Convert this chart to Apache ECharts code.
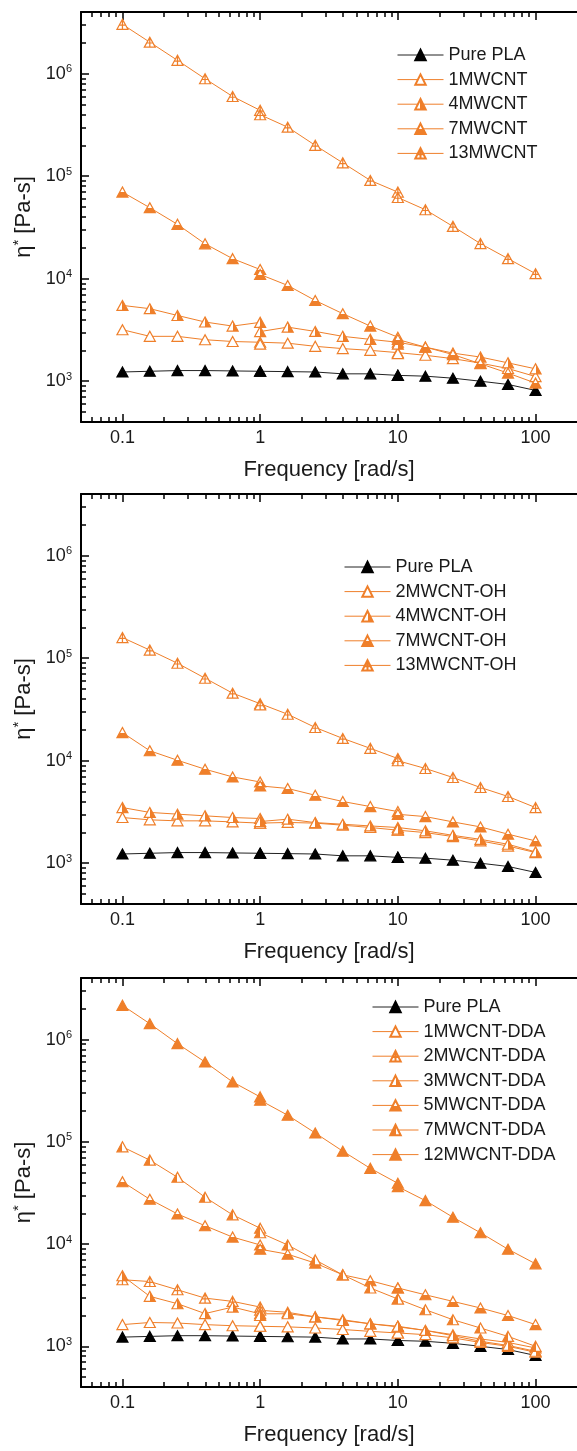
<!DOCTYPE html>
<html><head><meta charset="utf-8">
<script src="https://cdn.jsdelivr.net/npm/echarts@6/dist/echarts.min.js"></script>
<style>html,body{margin:0;padding:0;background:#fff}#c{width:577px;height:1451px}</style>
</head><body><div id="c"></div><script>
// ---------- data ----------
const freq = [0.1, 0.158, 0.251, 0.398, 0.631, 1, 1, 1.585, 2.512, 3.981, 6.31, 10, 10, 15.85, 25.12, 39.81, 63.1, 100];

const purePLA = [1230, 1250, 1270, 1270, 1260, 1250, 1250, 1240, 1230, 1180, 1180, 1140, 1140, 1120, 1070, 1000, 930, 813];

// panel 1
const mwcnt1  = [3180, 2740, 2740, 2540, 2440, 2400, 2300, 2350, 2190, 2080, 2000, 1900, 1860, 1790, 1660, 1500, 1330, 1110];
const mwcnt4  = [5490, 5100, 4380, 3780, 3450, 3750, 3050, 3370, 3060, 2740, 2560, 2400, 2300, 2150, 1880, 1720, 1510, 1320];
const mwcnt7  = [70000, 49300, 33900, 21900, 15700, 12300, 11000, 8600, 6130, 4560, 3450, 2690, 2550, 2150, 1820, 1480, 1200, 958];
const mwcnt13 = [3030000, 2030000, 1350000, 893000, 600000, 439000, 398000, 301000, 200000, 135000, 91000, 70000, 62000, 47100, 32400, 22000, 15700, 11200];

// panel 2
const oh2  = [2790, 2650, 2590, 2590, 2530, 2460, 2460, 2500, 2460, 2350, 2230, 2100, 2100, 1990, 1820, 1650, 1470, 1270];
const oh4  = [3490, 3130, 3010, 2900, 2790, 2730, 2550, 2690, 2490, 2400, 2310, 2230, 2150, 2070, 1870, 1710, 1530, 1290];
const oh7  = [18800, 12500, 10100, 8260, 6950, 6200, 5680, 5360, 4600, 4000, 3570, 3190, 3000, 2850, 2530, 2260, 1920, 1650];
const oh13 = [159000, 120000, 89300, 63800, 45600, 36000, 35000, 28400, 21100, 16500, 13200, 10500, 10000, 8400, 6860, 5480, 4480, 3490];

// panel 3
const dda1  = [1630, 1710, 1690, 1630, 1590, 1570, 1570, 1550, 1510, 1460, 1400, 1350, 1350, 1300, 1210, 1090, 1000, 874];
const dda2  = [4480, 4300, 3570, 2960, 2750, 2420, 2250, 2150, 1940, 1820, 1660, 1550, 1550, 1430, 1300, 1180, 1090, 964];
const dda3  = [4900, 3080, 2610, 2090, 2420, 2080, 2000, 2080, 1940, 1790, 1660, 1570, 1570, 1430, 1270, 1120, 1020, 894];
const dda5  = [40700, 27400, 19700, 15100, 11700, 9800, 8900, 7960, 6510, 5000, 4380, 3720, 3720, 3190, 2750, 2370, 2000, 1630];
const dda7  = [89300, 66200, 45000, 28700, 19300, 14300, 12900, 9800, 7000, 5000, 3720, 2900, 2900, 2280, 1820, 1510, 1250, 1000];
const dda12 = [2160000, 1430000, 912000, 603000, 385000, 275000, 255000, 182000, 122000, 81000, 55000, 39300, 36400, 26600, 18300, 12900, 8900, 6410];

// axes / ticks
const xMajorTicks = [0.1, 1, 10, 100];
const xTickLabels = ['0.1', '1', '10', '100'];
const yMajorTicks = [1e3, 1e4, 1e5, 1e6];
const yTickExponents = ['3', '4', '5', '6'];
const minorMantissas = [2, 3, 4, 5, 6, 7, 8, 9];
const X_MIN = 0.05, X_MAX = 200, Y_MIN = 400, Y_MAX = 4e6;
const xTitle = 'Frequency [rad/s]';

// ---------- styles ----------
const OR = '#ef7f2a';
const FONT = '"Liberation Sans", Arial, sans-serif';
const TXT = '#1a1a1a';
function grad(h, stop, orangeFirst) {
  const a = orangeFirst ? OR : '#fff', b = orangeFirst ? '#fff' : OR;
  return {type: 'linear', x: 0, y: 0, x2: h ? 1 : 0, y2: h ? 0 : 1,
    colorStops: [{offset: 0, color: a}, {offset: stop, color: a}, {offset: stop, color: b}, {offset: 1, color: b}]};
}
const crossTri = 'path://M10,0L20,17.32L0,17.32Z M10,0L10,17.32 M4.23,10L15.77,10';
const MK = {
  black:  {symbol: 'triangle', color: '#000', border: '#000', line: '#222'},
  open:   {symbol: 'triangle', color: '#fff', border: OR, line: OR},
  right:  {symbol: 'triangle', color: grad(true, 0.5, false), border: OR, line: OR},
  left:   {symbol: 'triangle', color: grad(true, 0.5, true), border: OR, line: OR},
  bottom: {symbol: 'triangle', color: grad(false, 0.52, false), border: OR, line: OR},
  cross:  {symbol: crossTri, color: '#fff', border: OR, line: OR},
  filled: {symbol: 'triangle', color: OR, border: OR, line: OR}
};

const panels = [
  {top: 12, height: 410, legend: {left: 392, top: 41},
   series: [['Pure PLA', purePLA, 'black'], ['1MWCNT', mwcnt1, 'open'], ['4MWCNT', mwcnt4, 'right'], ['7MWCNT', mwcnt7, 'bottom'], ['13MWCNT', mwcnt13, 'cross']]},
  {top: 494, height: 410, legend: {left: 339, top: 553},
   series: [['Pure PLA', purePLA, 'black'], ['2MWCNT-OH', oh2, 'open'], ['4MWCNT-OH', oh4, 'right'], ['7MWCNT-OH', oh7, 'bottom'], ['13MWCNT-OH', oh13, 'cross']]},
  {top: 978, height: 409, legend: {left: 367, top: 993},
   series: [['Pure PLA', purePLA, 'black'], ['1MWCNT-DDA', dda1, 'open'], ['2MWCNT-DDA', dda2, 'cross'], ['3MWCNT-DDA', dda3, 'right'], ['5MWCNT-DDA', dda5, 'bottom'], ['7MWCNT-DDA', dda7, 'left'], ['12MWCNT-DDA', dda12, 'filled']]}
];

function minorList(lo, hi) {
  const out = [];
  for (let e = -3; e <= 7; e++) minorMantissas.forEach(m => { const v = m * Math.pow(10, e); if (v > lo * 1.0001 && v < hi * 0.9999) out.push(v); });
  return out;
}
const xMinor = minorList(X_MIN, X_MAX), yMinor = minorList(Y_MIN, Y_MAX);

const grid = [], xAxis = [], yAxis = [], legend = [], series = [];
const axLine = {show: true, onZero: false, lineStyle: {color: '#000', width: 2}};
panels.forEach((p, g) => {
  grid.push({left: 81, right: -8, top: p.top, height: p.height});
  const xb = {gridIndex: g, type: 'log', logBase: 10, min: X_MIN, max: X_MAX, splitLine: {show: false}, minorTick: {show: false}, minorSplitLine: {show: false}};
  const yb = {gridIndex: g, type: 'log', logBase: 10, min: Y_MIN, max: Y_MAX, splitLine: {show: false}, minorTick: {show: false}, minorSplitLine: {show: false}};
  const tk = (vals, len) => ({show: true, inside: true, length: len, customValues: vals, lineStyle: {color: '#000', width: 1.5}});
  xAxis.push(Object.assign({}, xb, {position: 'bottom', axisLine: axLine, axisTick: tk(xMajorTicks, 8),
    axisLabel: {customValues: xMajorTicks, margin: 7, fontSize: 18, fontFamily: FONT, color: TXT,
      formatter: v => { const i = xMajorTicks.findIndex(t => Math.abs(t - v) / t < 1e-6); return i >= 0 ? xTickLabels[i] : ''; }},
    name: xTitle, nameLocation: 'middle', nameGap: 37, nameTextStyle: {fontSize: 22, fontFamily: FONT, color: TXT}}));
  xAxis.push(Object.assign({}, xb, {position: 'bottom', axisLine: {show: false, onZero: false}, axisTick: tk(xMinor, 5), axisLabel: {show: false}}));
  xAxis.push(Object.assign({}, xb, {position: 'top', axisLine: axLine, axisTick: tk(xMajorTicks, 8), axisLabel: {show: false}}));
  xAxis.push(Object.assign({}, xb, {position: 'top', axisLine: {show: false, onZero: false}, axisTick: tk(xMinor, 5), axisLabel: {show: false}}));
  yAxis.push(Object.assign({}, yb, {position: 'left', axisLine: axLine, axisTick: tk(yMajorTicks, 8),
    axisLabel: {customValues: yMajorTicks, margin: 9, fontFamily: FONT, color: TXT,
      formatter: v => { const i = yMajorTicks.findIndex(t => Math.abs(t - v) / t < 1e-6); return i >= 0 ? '{b|10}{s|' + yTickExponents[i] + '}' : ''; },
      rich: {b: {fontSize: 18, fontFamily: FONT, color: TXT, lineHeight: 20}, s: {fontSize: 11, fontFamily: FONT, color: TXT, verticalAlign: 'top', lineHeight: 12}}},
    name: '{g|η}{s|*}{g| [Pa-s]}', nameLocation: 'middle', nameGap: 35,
    nameTextStyle: {fontFamily: FONT, color: TXT, rich: {g: {fontSize: 22, fontFamily: FONT, color: TXT, lineHeight: 26}, s: {fontSize: 15, fontFamily: FONT, color: TXT, verticalAlign: 'top', lineHeight: 14}}}}));
  yAxis.push(Object.assign({}, yb, {position: 'left', axisLine: {show: false, onZero: false}, axisTick: tk(yMinor, 5), axisLabel: {show: false}}));

  legend.push({orient: 'vertical', left: p.legend.left, top: p.legend.top, itemWidth: 46, itemHeight: 13, itemGap: 6.6,
    data: p.series.map(s => s[0]), textStyle: {fontSize: 18, fontFamily: FONT, color: TXT, lineHeight: 18}, selectedMode: false,
    lineStyle: {width: 1}});
  p.series.forEach(([name, vals, mk]) => {
    const m = MK[mk];
    series.push({type: 'line', name: name, xAxisIndex: g * 4, yAxisIndex: g * 2,
      data: freq.map((f, i) => [f, vals[i]]),
      symbol: m.symbol, symbolSize: [11, 10], symbolKeepAspect: false,
      itemStyle: {color: m.color, borderColor: m.border, borderWidth: 1.2},
      lineStyle: {color: m.line, width: 1}, emphasis: {disabled: true}, animation: false, z: 3});
  });
});

const chart = echarts.init(document.getElementById('c'), null, {renderer: 'canvas'});
chart.setOption({backgroundColor: '#fff', animation: false, grid, xAxis, yAxis, legend, series});
</script></body></html>
